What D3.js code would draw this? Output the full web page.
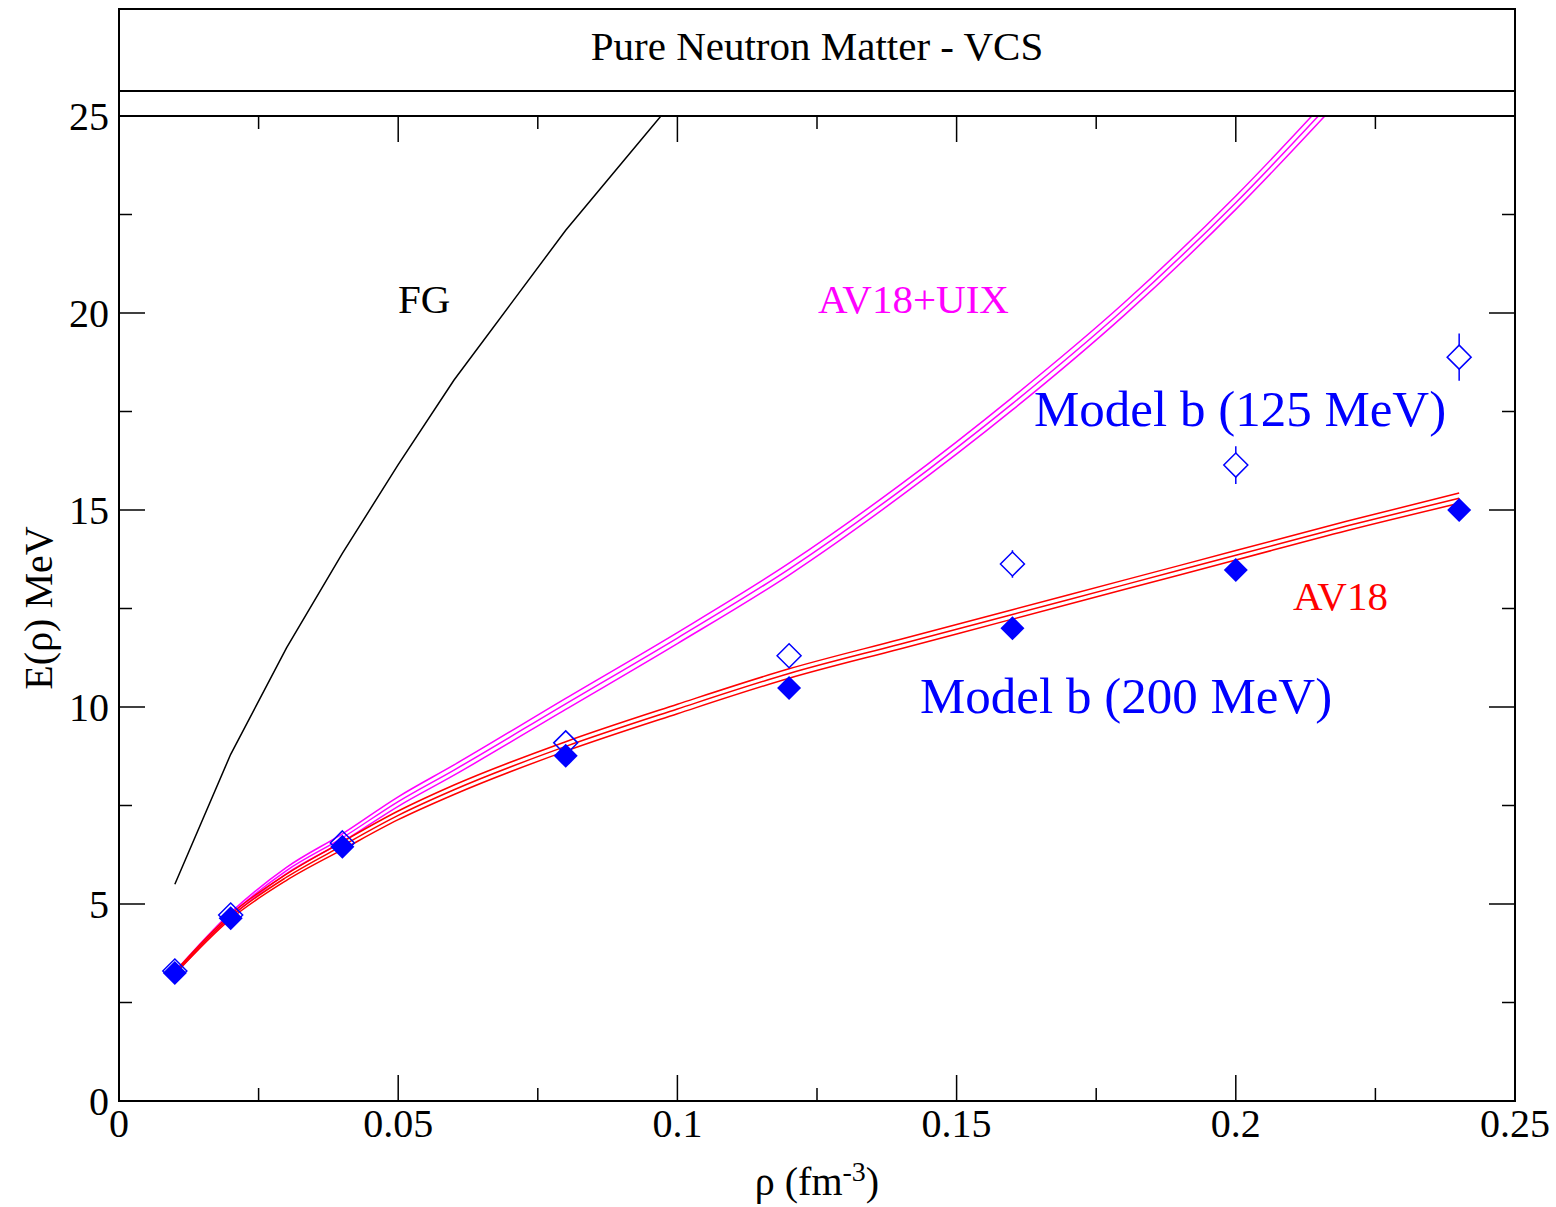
<!DOCTYPE html>
<html>
<head>
<meta charset="utf-8">
<script src="https://cdn.jsdelivr.net/npm/d3@7"></script>
<style>
  body { margin: 0; background: #fff; }
  svg text { font-family: "Liberation Serif", "Times New Roman", serif; }
</style>
</head>
<body>
<svg id="chart" width="1556" height="1207"></svg>
<script>
// Fermi gas
const fgRho = [0.01, 0.02, 0.03, 0.04, 0.05, 0.06, 0.07, 0.08, 0.09, 0.1];
const fgE = [5.5, 8.8, 11.5, 13.9, 16.15, 18.3, 20.2, 22.1, 23.8, 25.5];

// AV18 (center value and half-width of the band)
const av18Rho = [0.01, 0.02, 0.03, 0.04, 0.05, 0.06, 0.08, 0.1, 0.12, 0.14, 0.16, 0.18, 0.2, 0.22, 0.24];
const av18E = [3.25, 4.68, 5.68, 6.48, 7.25, 7.9, 9.0, 9.95, 10.85, 11.6, 12.35, 13.1, 13.85, 14.6, 15.3];
const av18Err = [0.03, 0.06, 0.08, 0.1, 0.11, 0.12, 0.12, 0.12, 0.12, 0.12, 0.12, 0.12, 0.12, 0.12, 0.13];

// AV18+UIX
const uixRho = [0.01, 0.02, 0.03, 0.04, 0.05, 0.06, 0.08, 0.1, 0.12, 0.14, 0.16, 0.18, 0.2, 0.22];
const uixE = [3.25, 4.72, 5.85, 6.68, 7.6, 8.4, 10.08, 11.75, 13.5, 15.5, 17.7, 20.1, 22.8, 25.8];
const uixErr = [0.03, 0.06, 0.08, 0.1, 0.12, 0.13, 0.14, 0.14, 0.15, 0.15, 0.16, 0.16, 0.17, 0.18];

// Model b points
const modelRho = [0.01, 0.02, 0.04, 0.08, 0.12, 0.16, 0.2, 0.24];
const model200E = [3.25, 4.64, 6.45, 8.76, 10.48, 12.0, 13.48, 15.0];
const model125E = [3.3, 4.72, 6.55, 9.09, 11.3, 13.63, 16.14, 18.88];
const model125Err = [0, 0, 0, 0, 0, 0.35, 0.48, 0.6];

const xMajor = [0, 0.05, 0.1, 0.15, 0.2, 0.25];
const xMinor = [0.025, 0.075, 0.125, 0.175, 0.225];
const yMajor = [0, 5, 10, 15, 20, 25];
const yMinor = [2.5, 7.5, 12.5, 17.5, 22.5];

const plotLeft = 119, plotRight = 1515, plotTop = 116, plotBottom = 1101;

const svg = d3.select("#chart");
const x = d3.scaleLinear().domain([0, 0.25]).range([plotLeft, plotRight]);
const y = d3.scaleLinear().domain([0, 25]).range([plotBottom, plotTop]);

svg.append("clipPath").attr("id", "plotclip")
  .append("rect")
  .attr("x", plotLeft).attr("y", plotTop)
  .attr("width", plotRight - plotLeft).attr("height", plotBottom - plotTop);

// title box
svg.append("rect")
  .attr("x", plotLeft).attr("y", 9)
  .attr("width", plotRight - plotLeft).attr("height", 82)
  .attr("fill", "none").attr("stroke", "#000").attr("stroke-width", 2);
svg.append("text")
  .attr("x", (plotLeft + plotRight) / 2).attr("y", 60)
  .attr("text-anchor", "middle")
  .attr("font-size", 41)
  .text("Pure Neutron Matter - VCS");
[plotLeft, plotRight].forEach((px) => {
  svg.append("line")
    .attr("x1", px).attr("x2", px).attr("y1", 91).attr("y2", plotTop)
    .attr("stroke", "#000").attr("stroke-width", 2);
});

// curves
const plot = svg.append("g").attr("clip-path", "url(#plotclip)");

function band(rhos, vals, errs, color) {
  [-1, 0, 1].forEach((k) => {
    const line = d3.line()
      .x((d, i) => x(rhos[i]))
      .y((d, i) => y(vals[i] + k * errs[i]))
      .curve(d3.curveMonotoneX);
    plot.append("path")
      .attr("d", line(vals))
      .attr("fill", "none")
      .attr("stroke", color)
      .attr("stroke-width", 1.5);
  });
}

const fgLine = d3.line()
  .x((d, i) => x(fgRho[i]))
  .y((d) => y(d));
plot.append("path")
  .attr("d", fgLine(fgE))
  .attr("fill", "none")
  .attr("stroke", "#000")
  .attr("stroke-width", 1.5);

band(uixRho, uixE, uixErr, "#ff00ff");
band(av18Rho, av18E, av18Err, "#ff0000");

// markers
const dsize = 12;
function diamond(cx, cy) {
  return `M${cx},${cy - dsize}L${cx + dsize},${cy}L${cx},${cy + dsize}L${cx - dsize},${cy}Z`;
}

modelRho.forEach((r, i) => {
  const cx = x(r), cy = y(model125E[i]);
  if (model125Err[i] > 0) {
    svg.append("line")
      .attr("x1", cx).attr("x2", cx)
      .attr("y1", y(model125E[i] + model125Err[i]))
      .attr("y2", y(model125E[i] - model125Err[i]))
      .attr("stroke", "#0000ff").attr("stroke-width", 1.5);
    svg.append("path").attr("d", diamond(cx, cy))
      .attr("fill", "#fff").attr("stroke", "#0000ff").attr("stroke-width", 1.5);
  } else {
    svg.append("path").attr("d", diamond(cx, cy))
      .attr("fill", "none").attr("stroke", "#0000ff").attr("stroke-width", 1.5);
  }
});

modelRho.forEach((r, i) => {
  svg.append("path").attr("d", diamond(x(r), y(model200E[i])))
    .attr("fill", "#0000ff");
});

// frame and ticks
svg.append("rect")
  .attr("x", plotLeft).attr("y", plotTop)
  .attr("width", plotRight - plotLeft).attr("height", plotBottom - plotTop)
  .attr("fill", "none").attr("stroke", "#000").attr("stroke-width", 2);

const ticks = svg.append("g").attr("stroke", "#000").attr("stroke-width", 1.5);
function xTick(v, len) {
  ticks.append("line").attr("x1", x(v)).attr("x2", x(v)).attr("y1", plotBottom).attr("y2", plotBottom - len);
  ticks.append("line").attr("x1", x(v)).attr("x2", x(v)).attr("y1", plotTop).attr("y2", plotTop + len);
}
function yTick(v, len) {
  ticks.append("line").attr("x1", plotLeft).attr("x2", plotLeft + len).attr("y1", y(v)).attr("y2", y(v));
  ticks.append("line").attr("x1", plotRight).attr("x2", plotRight - len).attr("y1", y(v)).attr("y2", y(v));
}
xMajor.forEach((v) => xTick(v, 26));
xMinor.forEach((v) => xTick(v, 13));
yMajor.forEach((v) => yTick(v, 26));
yMinor.forEach((v) => yTick(v, 13));

const xFmt = (v) => (v === 0 ? "0" : String(+v.toFixed(3)));
svg.append("g").selectAll("text").data(xMajor).enter().append("text")
  .attr("x", (d) => x(d)).attr("y", plotBottom + 36)
  .attr("text-anchor", "middle").attr("font-size", 40)
  .text(xFmt);
svg.append("g").selectAll("text").data(yMajor).enter().append("text")
  .attr("x", plotLeft - 10).attr("y", (d) => y(d) + 14)
  .attr("text-anchor", "end").attr("font-size", 40)
  .text((d) => d);

// axis titles
const xt = svg.append("text")
  .attr("x", 817).attr("y", 1195)
  .attr("text-anchor", "middle").attr("font-size", 40);
xt.append("tspan").text("\u03c1 (fm");
xt.append("tspan").attr("dy", -14).attr("font-size", 28).text("-3");
xt.append("tspan").attr("dy", 14).text(")");

svg.append("text")
  .attr("transform", "translate(52,608) rotate(-90)")
  .attr("text-anchor", "middle").attr("font-size", 40)
  .text("E(\u03c1) MeV");

// curve labels
const labels = [
  { t: "FG", x: 398, y: 313, c: "#000", s: 41 },
  { t: "AV18+UIX", x: 818, y: 313, c: "#ff00ff", s: 41 },
  { t: "AV18", x: 1293, y: 610, c: "#ff0000", s: 41 },
  { t: "Model b (125 MeV)", x: 1034, y: 426, c: "#0000ff", s: 51 },
  { t: "Model b (200 MeV)", x: 920, y: 713, c: "#0000ff", s: 51 },
];
labels.forEach((l) => {
  svg.append("text")
    .attr("x", l.x).attr("y", l.y)
    .attr("fill", l.c).attr("font-size", l.s)
    .text(l.t);
});
</script>
</body>
</html>
